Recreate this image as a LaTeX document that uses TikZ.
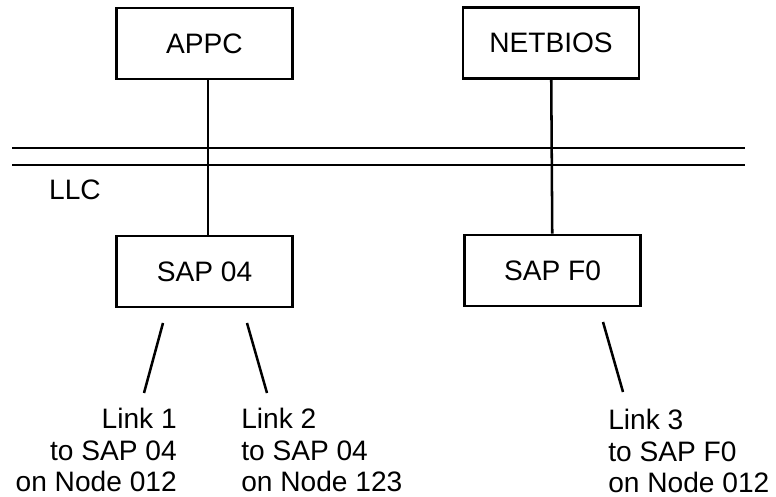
\documentclass[tikz,border=0pt]{standalone}
\usepackage{fontspec}
\setmainfont{Liberation Sans}
\usetikzlibrary{positioning}

\begin{document}
\begin{tikzpicture}[x=0.025cm, y=-0.025cm, line width=1.8pt,
    font=\fontsize{20}{22.4}\selectfont,
    layerbox/.style={draw, rectangle, minimum width=4.4cm, minimum height=1.78cm, inner sep=0pt},
    linktext/.style={inner sep=0pt}]
    \useasboundingbox (0,0) rectangle (776,497);
    % upper layer
    \node[layerbox] (appc) at (204.5,43.5) {APPC};
    \node[layerbox] (netbios) at (551,43) {NETBIOS};
    % saps
    \node[layerbox] (sap04) at (204.5,271.5) {SAP 04};
    \node[layerbox] (sapf0) at (552.5,270.5) {SAP F0};
    \draw ([xshift=0.09cm]appc.south) -- ([xshift=0.09cm]sap04.north);
    \draw (netbios) -- (sapf0);
    % llc boundary
    \coordinate (llcAw) at (12,148);
    \coordinate (llcAe) at (745,148);
    \coordinate (llcBw) at (12,165);
    \coordinate (llcBe) at (745,165);
    \draw (llcAw) -- (llcAe);
    \draw (llcBw) -- (llcBe);
    \node (llc) at (75,190) {LLC};
    % links
    \node[linktext, anchor=north east, align=right] (link1) at (178,407) {Link 1\\to SAP 04\\on Node 012};
    \node[linktext, anchor=north west, align=left] (link2) at (240,407) {Link 2\\to SAP 04\\on Node 123};
    \node[linktext, anchor=north west, align=left] (link3) at (607,408) {Link 3\\to SAP F0\\on Node 012};
    \coordinate (l1top) at (163,323);
    \coordinate (l1bot) at (144,393);
    \coordinate (l2top) at (247,323);
    \coordinate (l2bot) at (267,393);
    \coordinate (l3top) at (603,322);
    \coordinate (l3bot) at (623,392);
    \draw (l1top) -- (l1bot);
    \draw (l2top) -- (l2bot);
    \draw (l3top) -- (l3bot);
\end{tikzpicture}
\end{document}
